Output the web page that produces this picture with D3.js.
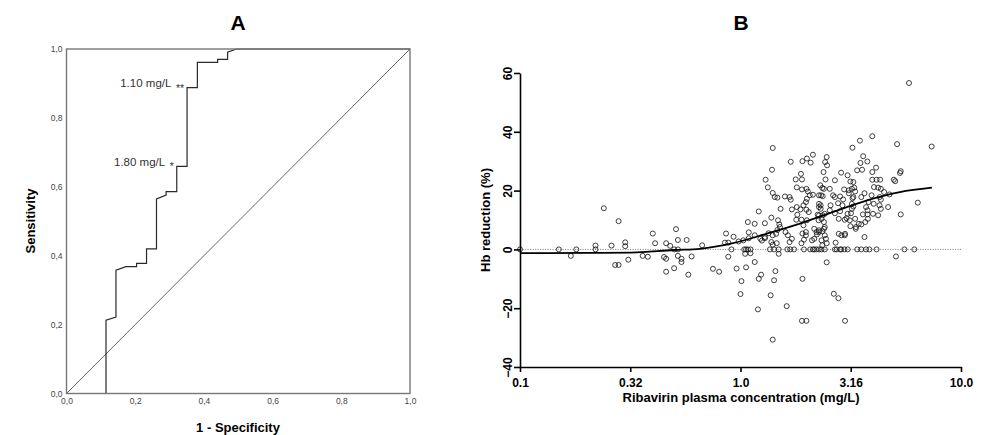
<!DOCTYPE html>
<html>
<head>
<meta charset="utf-8">
<script src="https://cdn.jsdelivr.net/npm/d3@7"></script>
<style>
  body { margin: 0; background: #fff; }
  svg { display: block; font-family: "Liberation Sans", Arial, sans-serif; }
</style>
</head>
<body>
<svg id="chart" width="996" height="435"></svg>
<script>
// ---- Panel A: ROC curve of ribavirin concentration ----
const rocFpr = [0, 0.115, 0.115, 0.144, 0.144, 0.173, 0.204, 0.204, 0.233, 0.233, 0.262, 0.262,
  0.290, 0.290, 0.321, 0.321, 0.351, 0.351, 0.381, 0.381, 0.440, 0.440, 0.469, 0.469, 0.495, 1];
const rocTpr = [0, 0, 0.213, 0.222, 0.358, 0.368, 0.368, 0.378, 0.378, 0.420, 0.420, 0.565,
  0.576, 0.586, 0.586, 0.659, 0.659, 0.888, 0.888, 0.961, 0.961, 0.970, 0.970, 0.991, 1, 1];
const rocTicks = [0, 0.2, 0.4, 0.6, 0.8, 1.0];
const cutoffLabels = ["1.10 mg/L", "1.80 mg/L"];
const cutoffMarks = ["**", "*"];
const cutoffFpr = [0.351, 0.321];
const cutoffTpr = [0.888, 0.659];

// ---- Panel B: Hb reduction vs ribavirin plasma concentration ----
const ribavirinConc = [
  0.10, 0.15, 0.17, 0.18, 0.22, 0.22, 0.24, 0.26, 0.28, 0.30, 0.30, 0.31, 0.27, 0.28, 0.36, 0.38,
  0.40, 0.41, 0.45, 0.46, 0.46, 0.46, 0.48, 0.50, 0.50, 0.52, 0.51, 0.52, 0.52, 0.54, 0.54, 0.57,
  0.58, 0.60, 0.67, 0.75, 0.80, 0.85, 0.86, 0.88, 0.88, 0.91, 0.93, 0.96, 1.01, 1.00, 1.04, 1.06,
  1.08, 1.06, 1.05, 1.08, 1.09, 1.11, 1.11, 1.16, 1.16, 1.16, 1.21, 1.21, 1.24, 1.20, 1.25, 1.29,
  1.29, 1.30, 1.33, 1.38, 1.39, 1.40, 1.40, 1.43, 1.47, 1.37, 1.42, 1.44, 1.40, 1.36, 1.42, 1.49,
  1.49, 1.38, 1.40, 1.46, 1.34, 1.40, 1.45, 1.48, 1.50, 1.51, 1.52, 1.59, 1.67, 1.69, 1.69, 1.62,
  1.63, 1.68, 1.75, 1.60, 1.64, 1.71, 1.67, 1.71, 1.80, 1.87, 1.81, 1.79, 1.89, 1.78, 1.88, 1.90,
  1.80, 1.90, 1.99, 2.02, 2.06, 2.13, 2.00, 1.98, 1.93, 1.91, 2.00, 2.08, 2.13, 1.90, 1.99, 1.91,
  1.94, 2.07, 2.13, 2.16, 2.21, 1.89, 1.99, 2.04, 2.00, 1.93, 1.98, 1.98, 1.94, 2.11, 2.16, 2.21,
  2.22, 2.24, 2.26, 2.33, 2.41, 2.27, 2.31, 2.27, 2.33, 2.41, 2.30, 2.35, 2.39, 2.43, 2.32, 2.36,
  2.46, 2.42, 2.47, 2.38, 2.54, 2.63, 2.68, 2.68, 2.86, 2.83, 2.92, 2.77, 2.90, 2.54, 2.68, 2.83,
  2.79, 2.97, 2.39, 2.27, 2.41, 2.79, 2.87, 2.98, 2.33, 2.41, 2.70, 2.97, 2.46, 2.65, 2.78, 2.98,
  2.68, 2.73, 2.86, 3.06, 3.06, 3.17, 3.20, 3.06, 3.15, 3.25, 3.22, 2.95, 3.10, 3.20, 3.28, 3.31,
  3.22, 3.25, 3.20, 3.25, 3.15, 3.34, 3.31, 3.38, 3.38, 3.48, 3.50, 3.60, 3.76, 3.56, 3.53, 3.65,
  3.53, 3.65, 3.53, 3.71, 3.84, 3.71, 3.77, 3.81, 3.96, 3.96, 4.12, 3.96, 4.14, 4.30, 4.03, 4.33,
  4.48, 4.74, 4.02, 4.27, 4.33, 4.67, 4.14, 5.07, 4.96, 5.03, 5.33, 5.29, 5.13, 5.33, 5.54, 6.14,
  6.37, 5.81, 7.36, 3.93, 4.28, 4.21, 3.59, 3.77, 3.99, 4.21, 3.68, 2.27, 2.31, 2.27, 2.56, 2.27,
  0.98, 1.03, 1.09, 1.23, 1.29, 1.47, 1.91, 2.16, 2.27, 2.35, 2.44, 2.83, 2.96, 3.10, 4.33, 3.03,
  3.13, 3.33, 3.44, 3.78, 2.36, 2.39, 2.35, 2.46
];
const hbReduction = [
  0, 0, -2.2, 0, 1.3, 0, 14.0, 1.3, 9.6, 2.4, 1.1, -3.5, -5.3, -5.3, -2.2, -2.5,
  5.4, 2.1, -2.6, -3.2, 2.1, -7.6, 1.2, -6.4, 0, 0, 6.9, 3.2, -2.2, -3.2, -4.3, 3.2,
  -8.6, -2.4, 1.4, -6.6, -7.6, 2.3, 5.4, 2.3, -2.5, 0, 4.3, -6.5, -10.8, -15.2, 0, 0,
  0, -6.1, -1.5, 9.3, 5.8, 0, -1.3, 8.7, 4.8, -4.3, 12.9, -10.0, -8.6, -20.4, 3.0, 3.8,
  8.9, 23.7, 21.1, 10.8, 27.1, 34.5, 19.2, 17.8, 17.6, -15.6, -10.5, -7.4, -30.7, 0, 0, 0,
  -1.5, 2.5, 1.6, 2.1, 5.5, 4.8, 5.3, 9.9, 8.5, 7.6, 13.8, 18.0, 17.8, 16.9, 29.8, -19.3,
  0, 0, 0, 5.9, 4.8, 3.6, 2.5, 13.6, 14.4, 13.6, 11.8, 10.1, 10.1, 23.8, 25.7, 23.8,
  21.1, 20.4, 20.6, 19.7, 18.4, 18.6, 17.2, 16.1, 15.0, 30.0, 30.9, 29.5, 32.2, -24.3, -24.3, -10.0,
  0, 0, 0, 0, 0, 2.1, 13.5, 12.7, 9.9, 8.2, 5.9, 4.8, 3.3, 3.1, 7.0, 5.9,
  5.1, 11.8, 9.9, 10.4, 12.1, 14.4, 13.8, 0, 0, 0, 21.8, 20.9, 20.6, 23.8, 18.4, 18.1,
  31.4, 29.7, 28.6, 26.3, 20.6, 18.4, 17.8, 23.5, 26.1, 18.0, 17.0, 15.7, 15.0, 13.3, 12.3, 13.0,
  10.4, 10.1, 9.3, 6.5, 7.6, 5.3, 4.8, 5.3, 3.1, 4.8, 2.3, 4.8, -4.4, -15.1, -16.6, -24.3,
  0, 0, 0, 0, 12.1, 12.3, 13.8, 25.2, 23.1, 22.9, 34.6, 20.4, 20.1, 20.6, 21.0, 19.7,
  17.4, 17.8, 15.5, 14.6, 7.9, 7.6, 10.4, 0, 26.9, 37.0, 29.4, 31.7, 29.9, 27.1, 17.8, 19.1,
  8.5, 4.2, 0, 0, 0, 14.4, 13.3, 16.1, 38.5, 26.3, 27.8, 23.7, 23.7, 23.7, 21.2, 20.6,
  19.5, 18.7, 15.5, 15.0, 13.8, 14.4, 0, -2.4, 23.7, 23.2, 26.6, 26.0, 35.8, 11.9, 0, 0,
  15.9, 56.6, 35.0, 18.4, 17.8, 21.0, 11.9, 11.9, 12.1, 11.6, 9.3, 11.6, 15.0, 15.5, 15.0, 18.4,
  2.7, 3.1, 3.8, 3.6, 4.2, 6.6, 5.4, 3.6, 5.9, 6.1, 3.6, 0, 0, 19.1, 16.9, 10.6,
  9.9, 7.0, 8.7, 10.4, 11.6, 7.0, 1.4, 2.1
];
// Smoothed trend through the scatter
const fitConc = [0.10, 0.20, 0.32, 0.50, 0.655, 0.925, 1.32, 1.86, 2.62, 3.75, 5.28, 7.38];
const fitHb = [-1.3, -1.2, -1.1, -0.2, 0.2, 2.1, 5.4, 8.8, 12.7, 16.7, 19.5, 21.0];
const concTicks = [0.1, 0.3162, 1, 3.162, 10];
const concTickLabels = ["0.1", "0.32", "1.0", "3.16", "10.0"];
const hbTicks = [-40, -20, 0, 20, 40, 60];

const svg = d3.select("#chart");

// ================= Panel A =================
const ax = d3.scaleLinear().domain([0, 1]).range([66.5, 410]);
const ay = d3.scaleLinear().domain([0, 1]).range([393.5, 49]);
const gA = svg.append("g");

gA.append("text").attr("x", 238).attr("y", 29.5).attr("text-anchor", "middle")
  .attr("font-size", 21).attr("font-weight", "bold").text("A");

// reference diagonal
gA.append("line")
  .attr("x1", ax(0)).attr("y1", ay(0)).attr("x2", ax(1)).attr("y2", ay(1))
  .attr("stroke", "#555").attr("stroke-width", 0.9);

// ROC step curve
gA.append("path")
  .datum(d3.range(rocFpr.length))
  .attr("d", d3.line().x(i => ax(rocFpr[i])).y(i => ay(rocTpr[i])))
  .attr("fill", "none").attr("stroke", "#2a2a2a").attr("stroke-width", 1.2);

// plot frame
gA.append("rect")
  .attr("x", ax(0)).attr("y", ay(1))
  .attr("width", ax(1) - ax(0)).attr("height", ay(0) - ay(1))
  .attr("fill", "none").attr("stroke", "#777").attr("stroke-width", 1.4);

const commaFmt = d => d3.format(".1f")(d).replace(".", ",");
const axA = gA.append("g").attr("transform", `translate(0,${ay(0)})`)
  .call(d3.axisBottom(ax).tickValues(rocTicks).tickSize(0).tickPadding(4).tickFormat(commaFmt));
const ayA = gA.append("g").attr("transform", `translate(${ax(0)},0)`)
  .call(d3.axisLeft(ay).tickValues(rocTicks).tickSize(0).tickPadding(4).tickFormat(commaFmt));
[axA, ayA].forEach(g => {
  g.select(".domain").remove();
  g.selectAll("text").attr("font-size", 8.5).attr("fill", "#444")
    .attr("font-family", '"Liberation Sans", Arial, sans-serif');
});

// cutoff annotations
cutoffLabels.forEach((lab, i) => {
  const px = ax(cutoffFpr[i]), py = ay(cutoffTpr[i]);
  const markEnd = px - 3;
  const mark = gA.append("text").attr("x", markEnd).attr("y", py + 4)
    .attr("text-anchor", "end").attr("font-size", 10.5).attr("fill", "#333").text(cutoffMarks[i]);
  const mw = mark.node().getComputedTextLength();
  gA.append("text").attr("x", markEnd - mw - 4.5).attr("y", py - 0.5)
    .attr("text-anchor", "end").attr("font-size", 11.5).attr("fill", "#333").text(lab);
});

gA.append("text").attr("transform", "translate(34.5,221) rotate(-90)")
  .attr("text-anchor", "middle").attr("font-size", 13).attr("font-weight", "bold").text("Sensitivity");
gA.append("text").attr("x", 238).attr("y", 432).attr("text-anchor", "middle")
  .attr("font-size", 13).attr("font-weight", "bold").text("1 - Specificity");

// ================= Panel B =================
const bx = d3.scaleLog().domain([0.1, 10]).range([520, 961]);
const by = d3.scaleLinear().domain([-40, 60]).range([367, 73]);
const gB = svg.append("g");

gB.append("text").attr("x", 741).attr("y", 29.5).attr("text-anchor", "middle")
  .attr("font-size", 21).attr("font-weight", "bold").text("B");

// zero reference line
gB.append("line")
  .attr("x1", bx(0.1)).attr("x2", bx(10)).attr("y1", by(0)).attr("y2", by(0))
  .attr("stroke", "#8a8a8a").attr("stroke-width", 1).attr("stroke-dasharray", "1.2,1.3");

// individual observations
gB.append("g").selectAll("circle")
  .data(d3.range(ribavirinConc.length))
  .join("circle")
  .attr("cx", i => bx(ribavirinConc[i]))
  .attr("cy", i => by(hbReduction[i]))
  .attr("r", 2.5)
  .attr("fill", "none").attr("stroke", "#111").attr("stroke-width", 0.8);

// smoothed trend
gB.append("path")
  .datum(d3.range(fitConc.length))
  .attr("d", d3.line().curve(d3.curveMonotoneX).x(i => bx(fitConc[i])).y(i => by(fitHb[i])))
  .attr("fill", "none").attr("stroke", "#000").attr("stroke-width", 1.8);

const xB = gB.append("g").attr("transform", `translate(0,${by(-40)})`)
  .call(d3.axisBottom(bx).tickValues(concTicks).tickSize(5).tickSizeOuter(0)
    .tickFormat((d, i) => concTickLabels[i]));
const yB = gB.append("g").attr("transform", `translate(${bx(0.1)},0)`)
  .call(d3.axisLeft(by).tickValues(hbTicks).tickSize(6).tickSizeOuter(0));
[xB, yB].forEach(g => {
  g.selectAll(".domain, line").attr("stroke", "#000").attr("stroke-width", 1.6);
  g.selectAll("text").attr("font-size", 12).attr("font-weight", "bold").attr("fill", "#000")
    .attr("font-family", '"Liberation Sans", Arial, sans-serif');
});
xB.selectAll("text").attr("y", 20).attr("dy", 0);
yB.selectAll("text").attr("transform", "rotate(-90)")
  .attr("x", 0).attr("y", -8.5).attr("dy", 0).attr("text-anchor", "middle");

gB.append("text").attr("transform", "translate(490,220) rotate(-90)")
  .attr("text-anchor", "middle").attr("font-size", 13).attr("font-weight", "bold").text("Hb reduction (%)");
gB.append("text").attr("x", 741).attr("y", 402).attr("text-anchor", "middle")
  .attr("font-size", 13).attr("font-weight", "bold").text("Ribavirin plasma concentration (mg/L)");
</script>
</body>
</html>
